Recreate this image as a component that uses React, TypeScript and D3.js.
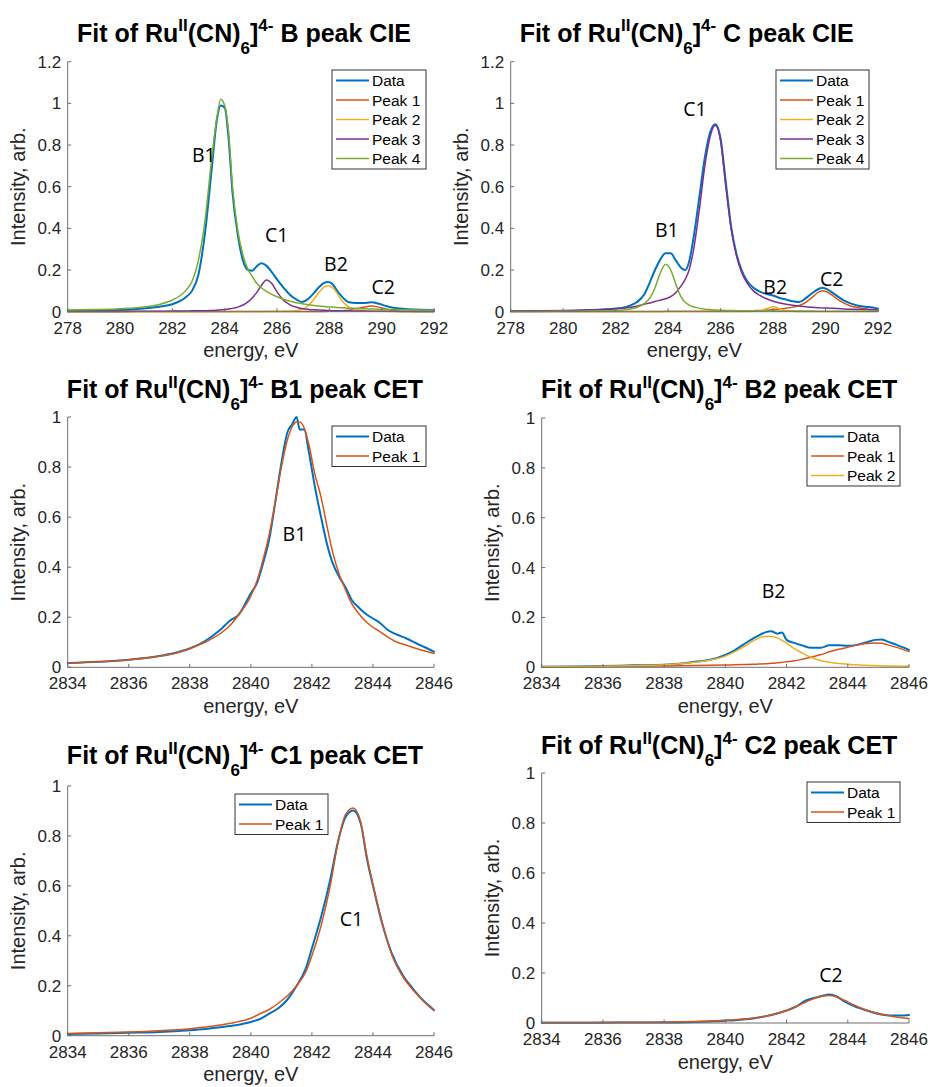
import React from 'react';
import * as d3 from 'd3';

// ---------- colours (MATLAB default order) ----------
const C_DATA = '#0072BD';
const C_P1 = '#D95319';
const C_P2 = '#EDB120';
const C_P3 = '#7E2F8E';
const C_P4 = '#77AC30';

// ---------- Panel 1: B peak CIE ----------
const p1Energy = [278, 279, 280, 281, 281.5, 282, 282.5, 282.75, 283, 283.25, 283.5, 283.7, 283.85, 284, 284.15, 284.3, 284.5, 284.7, 284.9, 285.05, 285.2, 285.4, 285.6, 285.8, 286, 286.25, 286.5, 286.75, 286.95, 287.2, 287.4, 287.6, 287.8, 287.95, 288.1, 288.3, 288.5, 288.75, 289, 289.3, 289.6, 289.9, 290.2, 290.5, 291, 291.5, 292];
const p1Data = [0.005, 0.006, 0.008, 0.016, 0.024, 0.036, 0.068, 0.1, 0.18, 0.38, 0.68, 0.92, 0.99, 0.98, 0.83, 0.57, 0.37, 0.245, 0.2, 0.197, 0.215, 0.232, 0.22, 0.19, 0.155, 0.115, 0.08, 0.058, 0.047, 0.062, 0.088, 0.117, 0.138, 0.142, 0.135, 0.1, 0.07, 0.045, 0.042, 0.042, 0.045, 0.038, 0.026, 0.018, 0.012, 0.009, 0.008];
const p1Peak1 = [0.001, 0.001, 0.001, 0.001, 0.001, 0.001, 0.001, 0.001, 0.001, 0.001, 0.001, 0.001, 0.001, 0.001, 0.001, 0.001, 0.001, 0.001, 0.001, 0.001, 0.001, 0.001, 0.001, 0.001, 0.001, 0.001, 0.001, 0.001, 0.001, 0.001, 0.001, 0.001, 0.001, 0.002, 0.002, 0.003, 0.004, 0.007, 0.012, 0.021, 0.027, 0.022, 0.012, 0.006, 0.002, 0.001, 0.001];
const p1Peak2 = [0, 0, 0, 0, 0, 0, 0, 0, 0, 0, 0, 0, 0, 0, 0, 0.001, 0.001, 0.001, 0.001, 0.001, 0.001, 0.001, 0.002, 0.002, 0.002, 0.003, 0.003, 0.006, 0.012, 0.03, 0.058, 0.092, 0.118, 0.124, 0.118, 0.088, 0.05, 0.022, 0.01, 0.005, 0.003, 0.002, 0.002, 0.001, 0.001, 0.001, 0.001];
const p1Peak3 = [0.001, 0.001, 0.001, 0.002, 0.002, 0.003, 0.003, 0.004, 0.004, 0.005, 0.006, 0.007, 0.009, 0.01, 0.013, 0.016, 0.022, 0.032, 0.048, 0.066, 0.088, 0.125, 0.152, 0.135, 0.095, 0.055, 0.033, 0.021, 0.015, 0.011, 0.009, 0.008, 0.007, 0.006, 0.005, 0.005, 0.004, 0.004, 0.003, 0.003, 0.002, 0.002, 0.002, 0.002, 0.001, 0.001, 0.001];
const p1Peak4 = [0.008, 0.01, 0.014, 0.024, 0.035, 0.056, 0.1, 0.145, 0.25, 0.44, 0.73, 0.93, 1.02, 0.99, 0.86, 0.6, 0.39, 0.27, 0.2, 0.17, 0.14, 0.115, 0.097, 0.083, 0.072, 0.06, 0.05, 0.043, 0.038, 0.033, 0.03, 0.027, 0.025, 0.023, 0.022, 0.02, 0.019, 0.017, 0.016, 0.014, 0.013, 0.012, 0.011, 0.01, 0.009, 0.008, 0.007];

// ---------- Panel 2: C peak CIE ----------
const p2Energy = [278, 279, 280, 281, 281.5, 282, 282.5, 282.8, 283.1, 283.3, 283.5, 283.7, 283.9, 284.1, 284.3, 284.5, 284.65, 284.8, 285, 285.2, 285.4, 285.6, 285.8, 286, 286.2, 286.4, 286.6, 286.8, 287, 287.25, 287.5, 287.75, 288, 288.25, 288.5, 288.75, 289, 289.25, 289.5, 289.75, 289.9, 290.1, 290.3, 290.6, 290.9, 291.2, 291.5, 291.8, 292];
const p2Data = [0.003, 0.003, 0.004, 0.007, 0.01, 0.015, 0.027, 0.045, 0.085, 0.14, 0.2, 0.25, 0.28, 0.28, 0.245, 0.21, 0.2, 0.24, 0.38, 0.56, 0.74, 0.86, 0.9, 0.83, 0.62, 0.41, 0.28, 0.2, 0.15, 0.115, 0.096, 0.085, 0.078, 0.066, 0.058, 0.05, 0.046, 0.065, 0.09, 0.11, 0.115, 0.105, 0.088, 0.062, 0.042, 0.03, 0.024, 0.02, 0.014];
const p2Peak1 = [0.001, 0.001, 0.001, 0.001, 0.001, 0.001, 0.001, 0.001, 0.001, 0.001, 0.001, 0.001, 0.002, 0.002, 0.002, 0.002, 0.002, 0.002, 0.002, 0.002, 0.002, 0.003, 0.003, 0.003, 0.003, 0.003, 0.004, 0.004, 0.004, 0.005, 0.006, 0.008, 0.01, 0.013, 0.017, 0.022, 0.03, 0.045, 0.07, 0.095, 0.1, 0.092, 0.075, 0.048, 0.03, 0.02, 0.014, 0.01, 0.008];
const p2Peak2 = [0.001, 0.001, 0.001, 0.001, 0.001, 0.001, 0.001, 0.001, 0.001, 0.001, 0.001, 0.001, 0.001, 0.001, 0.001, 0.001, 0.001, 0.001, 0.001, 0.001, 0.001, 0.001, 0.001, 0.001, 0.001, 0.001, 0.001, 0.001, 0.001, 0.002, 0.004, 0.015, 0.024, 0.014, 0.004, 0.002, 0.001, 0.001, 0.001, 0.001, 0.001, 0.001, 0.001, 0.001, 0.001, 0.001, 0.001, 0.001, 0.001];
const p2Peak3 = [0.002, 0.003, 0.005, 0.009, 0.011, 0.014, 0.02, 0.026, 0.036, 0.042, 0.049, 0.055, 0.062, 0.072, 0.092, 0.125, 0.155, 0.2, 0.32, 0.5, 0.7, 0.84, 0.895, 0.82, 0.6, 0.4, 0.27, 0.19, 0.14, 0.1, 0.078, 0.062, 0.05, 0.042, 0.036, 0.031, 0.027, 0.024, 0.021, 0.019, 0.018, 0.017, 0.016, 0.014, 0.012, 0.011, 0.01, 0.009, 0.008];
const p2Peak4 = [0.001, 0.001, 0.002, 0.003, 0.004, 0.006, 0.012, 0.02, 0.04, 0.065, 0.115, 0.185, 0.228, 0.2, 0.13, 0.07, 0.045, 0.032, 0.022, 0.016, 0.012, 0.01, 0.008, 0.007, 0.006, 0.006, 0.005, 0.005, 0.005, 0.004, 0.004, 0.004, 0.004, 0.003, 0.003, 0.003, 0.003, 0.003, 0.003, 0.002, 0.002, 0.002, 0.002, 0.002, 0.002, 0.002, 0.002, 0.002, 0.002];

// ---------- Panel 3: B1 peak CET ----------
const p3Energy = [2834, 2835, 2836, 2837, 2837.5, 2838, 2838.5, 2839, 2839.3, 2839.6, 2840, 2840.2, 2840.4, 2840.6, 2840.8, 2841, 2841.2, 2841.35, 2841.5, 2841.6, 2841.75, 2841.9, 2842.1, 2842.3, 2842.5, 2842.7, 2842.9, 2843.1, 2843.3, 2843.5, 2843.75, 2844, 2844.2, 2844.5, 2844.8, 2845.1, 2845.4, 2845.7, 2846];
const p3Data = [0.017, 0.022, 0.03, 0.045, 0.057, 0.075, 0.105, 0.15, 0.185, 0.21, 0.296, 0.336, 0.416, 0.51, 0.66, 0.816, 0.94, 0.97, 1.0, 0.95, 0.95, 0.86, 0.72, 0.6, 0.49, 0.41, 0.36, 0.32, 0.27, 0.243, 0.215, 0.195, 0.18, 0.148, 0.13, 0.115, 0.097, 0.08, 0.062];
const p3Peak1 = [0.017, 0.022, 0.03, 0.044, 0.055, 0.075, 0.1, 0.135, 0.165, 0.21, 0.285, 0.345, 0.43, 0.53, 0.66, 0.8, 0.91, 0.96, 0.98, 0.98, 0.955, 0.89, 0.77, 0.68, 0.56, 0.45, 0.37, 0.31, 0.255, 0.22, 0.185, 0.16, 0.145, 0.12, 0.1, 0.088, 0.076, 0.065, 0.055];

// ---------- Panel 4: B2 peak CET ----------
const p4Energy = [2834, 2835, 2836, 2837, 2838, 2838.5, 2839, 2839.5, 2840, 2840.3, 2840.6, 2840.9, 2841.1, 2841.3, 2841.5, 2841.7, 2841.85, 2842, 2842.25, 2842.5, 2842.8, 2843.1, 2843.4, 2843.7, 2844, 2844.3, 2844.6, 2844.9, 2845.1, 2845.3, 2845.6, 2846];
const p4Data = [0.002, 0.003, 0.005, 0.008, 0.01, 0.014, 0.022, 0.03, 0.05, 0.068, 0.092, 0.115, 0.128, 0.14, 0.145, 0.135, 0.14, 0.11, 0.098, 0.088, 0.078, 0.078, 0.088, 0.088, 0.086, 0.09, 0.1, 0.11, 0.112, 0.103, 0.09, 0.07];
const p4Peak1 = [0.002, 0.002, 0.003, 0.004, 0.005, 0.006, 0.007, 0.008, 0.009, 0.01, 0.011, 0.012, 0.013, 0.014, 0.016, 0.018, 0.02, 0.022, 0.026, 0.032, 0.04, 0.05, 0.062, 0.072, 0.08, 0.089, 0.095, 0.097, 0.096, 0.09, 0.08, 0.063];
const p4Peak2 = [0.002, 0.003, 0.004, 0.006, 0.01, 0.014, 0.02, 0.029, 0.045, 0.062, 0.082, 0.105, 0.118, 0.124, 0.125, 0.118, 0.108, 0.097, 0.075, 0.058, 0.04, 0.027, 0.02, 0.015, 0.012, 0.01, 0.008, 0.007, 0.006, 0.005, 0.005, 0.004];

// ---------- Panel 5: C1 peak CET ----------
const p5Energy = [2834, 2835, 2836, 2837, 2838, 2838.5, 2839, 2839.5, 2840, 2840.3, 2840.6, 2840.9, 2841.2, 2841.5, 2841.8, 2842, 2842.3, 2842.6, 2842.85, 2843.1, 2843.35, 2843.6, 2843.8, 2844.05, 2844.3, 2844.6, 2845, 2845.3, 2845.6, 2846];
const p5Data = [0.007, 0.009, 0.012, 0.015, 0.022, 0.027, 0.034, 0.042, 0.055, 0.067, 0.088, 0.11, 0.145, 0.2, 0.27, 0.35, 0.475, 0.625, 0.775, 0.875, 0.902, 0.85, 0.71, 0.575, 0.45, 0.335, 0.238, 0.19, 0.147, 0.103];
const p5Peak1 = [0.009, 0.012, 0.015, 0.02, 0.028, 0.035, 0.043, 0.054, 0.07, 0.088, 0.105, 0.13, 0.16, 0.2, 0.255, 0.32, 0.44, 0.6, 0.77, 0.885, 0.912, 0.855, 0.72, 0.58, 0.455, 0.33, 0.232, 0.185, 0.145, 0.1];

// ---------- Panel 6: C2 peak CET ----------
const p6Energy = [2834, 2835, 2836, 2837, 2838, 2839, 2839.5, 2840, 2840.5, 2841, 2841.5, 2842, 2842.3, 2842.6, 2842.9, 2843.15, 2843.4, 2843.65, 2843.9, 2844.2, 2844.5, 2844.8, 2845.1, 2845.4, 2845.7, 2846];
const p6Data = [0.001, 0.001, 0.001, 0.002, 0.002, 0.004, 0.006, 0.009, 0.013, 0.02, 0.032, 0.05, 0.065, 0.088, 0.1, 0.108, 0.114, 0.105, 0.085, 0.068, 0.055, 0.043, 0.034, 0.03, 0.03, 0.032];
const p6Peak1 = [0.002, 0.002, 0.003, 0.003, 0.004, 0.006, 0.008, 0.011, 0.015, 0.021, 0.032, 0.05, 0.065, 0.082, 0.098, 0.107, 0.11, 0.104, 0.09, 0.072, 0.056, 0.044, 0.035, 0.028, 0.022, 0.018];

// ---------- axes ticks ----------
const cieXTicks = [278, 280, 282, 284, 286, 288, 290, 292];
const cetXTicks = [2834, 2836, 2838, 2840, 2842, 2844, 2846];
const cieYTicks = [0, 0.2, 0.4, 0.6, 0.8, 1, 1.2];
const cetYTicks = [0, 0.2, 0.4, 0.6, 0.8, 1];

// ---------- annotation labels (data coordinates) ----------
const p1Labels = [
  { text: 'B1', e: 282.75, i: 0.72 },
  { text: 'C1', e: 285.54, i: 0.335 },
  { text: 'B2', e: 287.8, i: 0.193 },
  { text: 'C2', e: 289.61, i: 0.083 },
];
const p2Labels = [
  { text: 'C1', e: 284.58, i: 0.94 },
  { text: 'B1', e: 283.5, i: 0.36 },
  { text: 'B2', e: 287.63, i: 0.084 },
  { text: 'C2', e: 289.79, i: 0.123 },
];
const p3Labels = [{ text: 'B1', e: 2841.04, i: 0.506 }];
const p4Labels = [{ text: 'B2', e: 2841.19, i: 0.277 }];
const p5Labels = [{ text: 'C1', e: 2842.91, i: 0.44 }];
const p6Labels = [{ text: 'C2', e: 2843.07, i: 0.165 }];

type Series = { name: string; values: number[]; color: string; width: number };
type Panel = {
  peak: string;
  mode: string;
  titleX: number;
  titleY: number;
  x0: number; x1: number; yTop: number; yBot: number;
  xDomain: [number, number];
  yDomain: [number, number];
  xTicks: number[];
  yTicks: number[];
  energy: number[];
  series: Series[];
  legend: { x: number; y: number; w: number };
  labels: { text: string; e: number; i: number }[];
};

const mk = (name: string, values: number[], color: string, width = 1.5): Series => ({ name, values, color, width });

const panels: Panel[] = [
  {
    peak: 'B', mode: 'CIE', titleX: 244, titleY: 41.7,
    x0: 67.7, x1: 434, yTop: 61.7, yBot: 311.7,
    xDomain: [278, 292], yDomain: [0, 1.2], xTicks: cieXTicks, yTicks: cieYTicks,
    energy: p1Energy,
    series: [mk('Data', p1Data, C_DATA, 2), mk('Peak 1', p1Peak1, C_P1), mk('Peak 2', p1Peak2, C_P2), mk('Peak 3', p1Peak3, C_P3), mk('Peak 4', p1Peak4, C_P4)],
    legend: { x: 332, y: 70, w: 94 },
    labels: p1Labels,
  },
  {
    peak: 'C', mode: 'CIE', titleX: 686.7, titleY: 41.7,
    x0: 510.7, x1: 878, yTop: 61.7, yBot: 311.7,
    xDomain: [278, 292], yDomain: [0, 1.2], xTicks: cieXTicks, yTicks: cieYTicks,
    energy: p2Energy,
    series: [mk('Data', p2Data, C_DATA, 2), mk('Peak 1', p2Peak1, C_P1), mk('Peak 2', p2Peak2, C_P2), mk('Peak 3', p2Peak3, C_P3), mk('Peak 4', p2Peak4, C_P4)],
    legend: { x: 776, y: 70, w: 93 },
    labels: p2Labels,
  },
  {
    peak: 'B1', mode: 'CET', titleX: 245, titleY: 398.3,
    x0: 67.7, x1: 434, yTop: 417, yBot: 667.3,
    xDomain: [2834, 2846], yDomain: [0, 1], xTicks: cetXTicks, yTicks: cetYTicks,
    energy: p3Energy,
    series: [mk('Data', p3Data, C_DATA, 2), mk('Peak 1', p3Peak1, C_P1)],
    legend: { x: 332, y: 426, w: 94 },
    labels: p3Labels,
  },
  {
    peak: 'B2', mode: 'CET', titleX: 719.2, titleY: 398.3,
    x0: 541.7, x1: 909, yTop: 418, yBot: 667.3,
    xDomain: [2834, 2846], yDomain: [0, 1], xTicks: cetXTicks, yTicks: cetYTicks,
    energy: p4Energy,
    series: [mk('Data', p4Data, C_DATA, 2), mk('Peak 1', p4Peak1, C_P1), mk('Peak 2', p4Peak2, C_P2)],
    legend: { x: 807, y: 426, w: 93 },
    labels: p4Labels,
  },
  {
    peak: 'C1', mode: 'CET', titleX: 245, titleY: 764.3,
    x0: 67.7, x1: 434, yTop: 786, yBot: 1035.7,
    xDomain: [2834, 2846], yDomain: [0, 1], xTicks: cetXTicks, yTicks: cetYTicks,
    energy: p5Energy,
    series: [mk('Data', p5Data, C_DATA, 2), mk('Peak 1', p5Peak1, C_P1)],
    legend: { x: 235, y: 794, w: 93 },
    labels: p5Labels,
  },
  {
    peak: 'C2', mode: 'CET', titleX: 719.2, titleY: 754.3,
    x0: 541.7, x1: 909, yTop: 773, yBot: 1023,
    xDomain: [2834, 2846], yDomain: [0, 1], xTicks: cetXTicks, yTicks: cetYTicks,
    energy: p6Energy,
    series: [mk('Data', p6Data, C_DATA, 2), mk('Peak 1', p6Peak1, C_P1)],
    legend: { x: 807, y: 782, w: 93 },
    labels: p6Labels,
  },
];

const SANS = "'Liberation Sans', Arial, Helvetica, sans-serif";
const LABEL_FONT = "'Open Sans', 'Noto Sans', sans-serif";
const AXIS_COLOR = '#6e6e6e';
const TEXT_COLOR = '#262626';

function PanelView({ p }: { p: Panel }) {
  const x = d3.scaleLinear().domain(p.xDomain).range([p.x0, p.x1]);
  const y = d3.scaleLinear().domain(p.yDomain).range([p.yBot, p.yTop]);
  const line = (vals: number[]) =>
    d3.line<number>()
      .x((_, k) => x(p.energy[k]))
      .y((v) => y(v))
      .curve(d3.curveMonotoneX)(vals) || '';
  const fmt = (t: number) => String(+t.toFixed(1));
  const tickLen = 3.5;
  const rowH = 19.5;
  const legH = 21 + rowH * (p.series.length - 1);
  const midY = (p.yTop + p.yBot) / 2;
  const midX = (p.x0 + p.x1) / 2;

  return (
    <g>
      {/* title */}
      <text x={p.titleX} y={p.titleY} textAnchor="middle" fontFamily={SANS} fontWeight="bold" fontSize={25} fill="#000">
        Fit of Ru<tspan dy={-10.5} fontSize={17}>II</tspan><tspan dy={10.5}>(CN)</tspan><tspan dy={12} fontSize={17}>6</tspan><tspan dy={-12}>]</tspan><tspan dy={-10.5} fontSize={17}>4-</tspan><tspan dy={10.5}>{` ${p.peak} peak ${p.mode}`}</tspan>
      </text>

      {/* curves */}
      <g fill="none" strokeLinejoin="round" strokeLinecap="round">
        {p.series.map((s) => (
          <path key={s.name} d={line(s.values)} stroke={s.color} strokeWidth={s.width} />
        ))}
      </g>

      {/* axes */}
      <line x1={p.x0} x2={p.x1} y1={p.yBot} y2={p.yBot} stroke={AXIS_COLOR} strokeWidth={1} />
      <line x1={p.x0} x2={p.x0} y1={p.yTop} y2={p.yBot} stroke={AXIS_COLOR} strokeWidth={1} />
      {p.xTicks.map((t) => (
        <g key={'xt' + t}>
          <line x1={x(t)} x2={x(t)} y1={p.yBot} y2={p.yBot - tickLen} stroke={AXIS_COLOR} strokeWidth={1} />
          <text x={x(t)} y={p.yBot + 22} textAnchor="middle" fontFamily={SANS} fontSize={17} fill={TEXT_COLOR}>{t}</text>
        </g>
      ))}
      {p.yTicks.map((t) => (
        <g key={'yt' + t}>
          <line x1={p.x0} x2={p.x0 + tickLen} y1={y(t)} y2={y(t)} stroke={AXIS_COLOR} strokeWidth={1} />
          <text x={p.x0 - 6.5} y={y(t) + 6} textAnchor="end" fontFamily={SANS} fontSize={17} fill={TEXT_COLOR}>{fmt(t)}</text>
        </g>
      ))}
      <text x={midX} y={p.yBot + 45.6} textAnchor="middle" fontFamily={SANS} fontSize={20} fill={TEXT_COLOR}>energy, eV</text>
      <text transform={`translate(${p.x0 - 42.5},${midY}) rotate(-90)`} textAnchor="middle" fontFamily={SANS} fontSize={20} fill={TEXT_COLOR}>Intensity, arb.</text>

      {/* peak annotations */}
      {p.labels.map((l) => (
        <text key={l.text} x={x(l.e)} y={y(l.i)} fontFamily={LABEL_FONT} fontSize={19.5} fill="#000">{l.text}</text>
      ))}

      {/* legend */}
      <rect x={p.legend.x} y={p.legend.y} width={p.legend.w} height={legH} fill="#fff" stroke="#333" strokeWidth={1} />
      {p.series.map((s, k) => {
        const ry = p.legend.y + 10.5 + k * rowH;
        return (
          <g key={'lg' + s.name}>
            <line x1={p.legend.x + 4} x2={p.legend.x + 37} y1={ry} y2={ry} stroke={s.color} strokeWidth={s.width} />
            <text x={p.legend.x + 40} y={ry + 5.5} fontFamily={SANS} fontSize={15.5} fill="#000">{s.name}</text>
          </g>
        );
      })}
    </g>
  );
}

export default function App() {
  return (
    <svg width={930} height={1087} viewBox="0 0 930 1087" style={{ position: 'absolute', left: 0, top: 0, background: '#fff' }}>
      <rect x={0} y={0} width={930} height={1087} fill="#fff" />
      {panels.map((p, k) => (
        <PanelView key={k} p={p} />
      ))}
    </svg>
  );
}
